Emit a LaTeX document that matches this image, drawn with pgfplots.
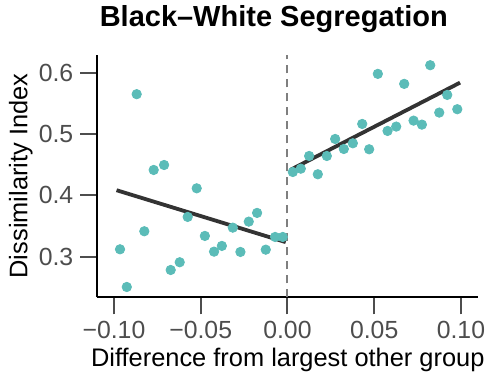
\documentclass[border=0pt]{standalone}
\usepackage{pgfplots}
\pgfplotsset{compat=1.18}
\usepackage{fontspec}
\setmainfont{Liberation Sans}

\definecolor{dotteal}{HTML}{5BBCB8}
\definecolor{fitgray}{HTML}{333333}
\definecolor{tickgray}{HTML}{4D4D4D}
\definecolor{cutgray}{HTML}{7F7F7F}

\begin{document}
\begin{tikzpicture}
\useasboundingbox (-48.65pt,-37.85pt) rectangle (195.85pt,148.65pt);
\begin{axis}[
  at={(0,0)}, anchor=south west,
  scale only axis, width=190.5pt, height=121.25pt,
  xmin=-0.1096, xmax=0.110, ymin=0.2338, ymax=0.629,
  axis x line*=bottom, axis y line*=left,
  axis line style={black, line width=1pt, -},
  tick align=outside, major tick length=8.5pt,
  tick style={tickgray, line width=1pt},
  xtick={-0.1,-0.05,0,0.05,0.1},
  xticklabels={−0.10,−0.05,0.00,0.05,0.10},
  ytick={0.3,0.4,0.5,0.6},
  yticklabels={0.3,0.4,0.5,0.6},
  ticklabel style={font=\fontsize{12.4}{14}\selectfont, text=tickgray},
  xlabel={Difference from largest other group},
  ylabel={Dissimilarity Index},
  label style={font=\fontsize{12.7}{15}\selectfont, text=black},
  xlabel style={at={(axis description cs:0.5,0)}, anchor=base, yshift=-34.7pt},
  ylabel style={at={(axis description cs:0,0.5)}, anchor=base, yshift=35pt},
  title={Black\textendash White Segregation},
  every axis title shift=0pt,
  title style={font=\fontsize{14.5}{17}\bfseries, at={(axis description cs:0,1)}, anchor=base, xshift=88.25pt, yshift=14.25pt},
  every mark/.append style={solid, draw=dotteal, fill=dotteal, line width=0pt},
]
% boundary of the discontinuity
\addplot[cutgray, line width=1pt, dash pattern=on 4.2pt off 2.8pt] coordinates {(0,0.2338) (0,0.629)};

% below the threshold
\addplot[only marks, mark=*, mark size=2.35pt, color=dotteal] coordinates {
(-0.0965,0.312) (-0.0926,0.2506) (-0.0869,0.5648) (-0.0825,0.3414)
(-0.0771,0.4413) (-0.0711,0.4494) (-0.0673,0.2783) (-0.0621,0.2909)
(-0.0575,0.3648) (-0.0523,0.4114) (-0.0476,0.3338) (-0.0423,0.3082)
(-0.0378,0.3175) (-0.0315,0.3473) (-0.0271,0.3077) (-0.0223,0.3571)
(-0.0175,0.3713) (-0.0125,0.3114) (-0.0071,0.3321) (-0.0027,0.3321)
};
% above the threshold
\addplot[only marks, mark=*, mark size=2.35pt, color=dotteal] coordinates {
(0.0031,0.438) (0.0077,0.4434) (0.0125,0.4641) (0.0175,0.4343)
(0.0227,0.4641) (0.0275,0.4918) (0.0325,0.4755) (0.0377,0.4848)
(0.0431,0.5163) (0.0471,0.475) (0.0521,0.5979) (0.0577,0.5049)
(0.0627,0.512) (0.0673,0.5816) (0.0727,0.5217) (0.0775,0.5152)
(0.0823,0.612) (0.0875,0.5348) (0.0921,0.5636) (0.0979,0.5403)
};

% linear fits on each side
\addplot[fitgray, line width=1.9pt] coordinates {(-0.0985,0.4083) (-0.001,0.3237)};
\addplot[fitgray, line width=1.9pt] coordinates {(0.002,0.4419) (0.0995,0.5836)};
\end{axis}
\end{tikzpicture}
\end{document}
